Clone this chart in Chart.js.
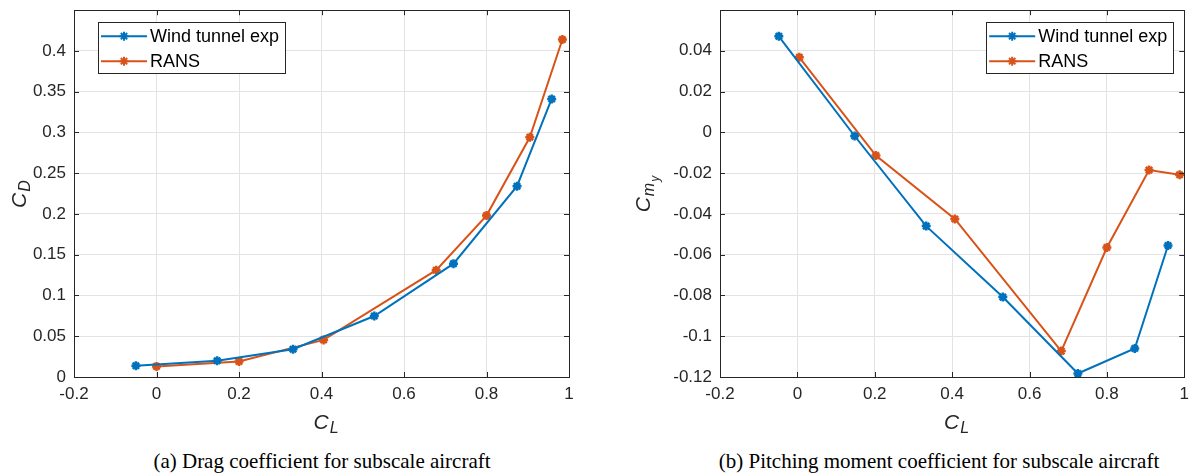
<!DOCTYPE html>
<html>
<head>
<meta charset="utf-8">
<script src="https://cdn.jsdelivr.net/npm/chart.js@4"></script>
<style>
  body { margin: 0; background: #fff; overflow: hidden; }
  #wrap { position: relative; width: 1196px; height: 476px; overflow: hidden; }
  .box { position: absolute; top: -8px; height: 448px; }
  .caption { position: absolute; top: 449px; font-family: "Liberation Serif", "Times New Roman", serif; font-size: 21px; color: #000; text-align: center; white-space: nowrap; }
</style>
</head>
<body>
<div id="wrap">
  <div class="box" style="left:0;width:600px"><canvas id="dragChart"></canvas></div>
  <div class="box" style="left:600px;width:596px"><canvas id="pitchChart"></canvas></div>
  <div class="caption" style="left:72px;width:500px">(a) Drag coefficient for subscale aircraft</div>
  <div class="caption" style="left:689px;width:500px">(b) Pitching moment coefficient for subscale aircraft</div>
</div>
<script>
// values
var seriesNames = ['Wind tunnel exp', 'RANS'];

var clExpDrag = [-0.05, 0.147, 0.331, 0.528, 0.72, 0.874, 0.958];
var cdExp = [0.0138, 0.0199, 0.034, 0.0748, 0.139, 0.234, 0.341];
var clRansDrag = [0.0, 0.2, 0.405, 0.678, 0.8, 0.905, 0.984];
var cdRans = [0.013, 0.019, 0.0455, 0.131, 0.198, 0.294, 0.414];

var clExpPitch = [-0.048, 0.148, 0.333, 0.531, 0.725, 0.872, 0.958];
var cmExp = [0.0471, -0.0018, -0.046, -0.0808, -0.1183, -0.106, -0.0555];
var clRansPitch = [0.005, 0.203, 0.407, 0.682, 0.8, 0.909, 0.988];
var cmRans = [0.0368, -0.0114, -0.0425, -0.1073, -0.0565, -0.0185, -0.0208];

var xTicks = [-0.2, 0, 0.2, 0.4, 0.6, 0.8, 1];

var BLUE = '#0072BD';
var ORANGE = '#D95319';
var AXIS = '#262626';
var FONT = '"Liberation Sans", Arial, Helvetica, sans-serif';

function pts(xs, ys) {
    return xs.map(function(v, i) { return {x: v, y: ys[i]}; });
}

function fmt(v) {
    return String(+v.toFixed(3));
}

// draws "C" with nested subscripts, e.g. ['C','m','y']
function drawSubText(ctx, parts, x, y, rotate) {
    ctx.save();
    ctx.translate(x, y);
    if (rotate) ctx.rotate(-Math.PI / 2);
    var sizes = [21, 16, 12];
    var drops = [0, 6, 12];
    var widths = parts.map(function(p, i) {
        ctx.font = 'italic ' + sizes[i] + 'px ' + FONT;
        return ctx.measureText(p).width + 1;
    });
    var total = widths.reduce(function(a, b) { return a + b; }, 0);
    var cx = -total / 2;
    ctx.fillStyle = AXIS;
    ctx.textBaseline = 'middle';
    ctx.textAlign = 'left';
    parts.forEach(function(p, i) {
        ctx.font = 'italic ' + sizes[i] + 'px ' + FONT;
        ctx.fillText(p, cx, drops[i]);
        cx += widths[i];
    });
    ctx.restore();
}

var matlabFrame = {
    id: 'matlabFrame',
    afterDraw: function(chart, args, opts) {
        var ctx = chart.ctx;
        var a = chart.chartArea;
        var xs = chart.scales.x, ys = chart.scales.y;
        ctx.save();
        ctx.strokeStyle = AXIS;
        ctx.lineWidth = 1;
        ctx.beginPath();
        xs.ticks.forEach(function(t) {
            var px = Math.round(xs.getPixelForValue(t.value)) + 0.5;
            ctx.moveTo(px, a.bottom); ctx.lineTo(px, a.bottom - 5);
            ctx.moveTo(px, a.top); ctx.lineTo(px, a.top + 5);
        });
        ys.ticks.forEach(function(t) {
            var py = Math.round(ys.getPixelForValue(t.value)) + 0.5;
            ctx.moveTo(a.left, py); ctx.lineTo(a.left + 5, py);
            ctx.moveTo(a.right, py); ctx.lineTo(a.right - 5, py);
        });
        ctx.stroke();
        ctx.strokeRect(Math.round(a.left) + 0.5, Math.round(a.top) + 0.5,
            Math.round(a.right - a.left), Math.round(a.bottom - a.top));

        // axis titles
        drawSubText(ctx, ['C', 'L'], (a.left + a.right) / 2 + 5, a.bottom + 46, false);
        drawSubText(ctx, opts.yTitle, opts.yTitleX, (a.top + a.bottom) / 2, true);

        // legend box
        ctx.font = '18px ' + FONT;
        var tw = 0;
        chart.data.datasets.forEach(function(ds) {
            tw = Math.max(tw, ctx.measureText(ds.label).width);
        });
        var bw = 52 + tw + 6, bh = 51;
        var bx = opts.legendAt === 'left' ? a.left + 24 : a.right - 11 - bw;
        var by = a.top + 12;
        ctx.fillStyle = '#fff';
        ctx.fillRect(bx, by, bw, bh);
        ctx.strokeStyle = AXIS;
        ctx.strokeRect(Math.round(bx) + 0.5, Math.round(by) + 0.5, Math.round(bw), bh);
        chart.data.datasets.forEach(function(ds, i) {
            var ly = by + 14 + i * 25;
            ctx.strokeStyle = ds.borderColor;
            ctx.lineWidth = 2;
            ctx.beginPath();
            ctx.moveTo(bx + 3, ly); ctx.lineTo(bx + 49, ly);
            ctx.stroke();
            Chart.helpers.drawPoint(ctx, {pointStyle: 'star', radius: 4.5, borderWidth: 2.5}, bx + 26, ly);
            ctx.fillStyle = '#000';
            ctx.textBaseline = 'middle';
            ctx.textAlign = 'left';
            ctx.fillText(ds.label, bx + 52, ly + 1);
        });
        ctx.restore();
    }
};

function lineSet(label, data, color) {
    return {
        label: label,
        data: data,
        borderColor: color,
        backgroundColor: color,
        borderWidth: 2,
        pointStyle: 'star',
        pointRadius: 4.5,
        pointBorderWidth: 2.5,
        pointHoverRadius: 4.5,
        tension: 0
    };
}

function makeChart(id, sets, yMin, yMax, yStep, yWidth, rightPad, yTitle, yTitleX, legendAt) {
    return new Chart(document.getElementById(id).getContext('2d'), {
        type: 'line',
        data: { datasets: sets },
        options: {
            responsive: true,
            maintainAspectRatio: false,
            animation: false,
            events: [],
            layout: { padding: { top: 1, right: rightPad, bottom: 0, left: 0 } },
            plugins: {
                legend: { display: false },
                tooltip: { enabled: false },
                matlabFrame: { yTitle: yTitle, yTitleX: yTitleX, legendAt: legendAt }
            },
            scales: {
                x: {
                    type: 'linear',
                    min: -0.2, max: 1,
                    afterBuildTicks: function(s) {
                        s.ticks = xTicks.map(function(v) { return {value: v}; });
                    },
                    afterFit: function(s) { s.height = 63; },
                    grid: { color: '#e3e3e3', drawTicks: false },
                    border: { display: false },
                    ticks: { color: AXIS, padding: 7, maxRotation: 0, font: { family: FONT, size: 17 }, callback: fmt }
                },
                y: {
                    min: yMin, max: yMax,
                    afterFit: function(s) { s.width = yWidth; },
                    grid: { color: '#e3e3e3', drawTicks: false },
                    border: { display: false },
                    ticks: { color: AXIS, padding: 8, stepSize: yStep, includeBounds: false, font: { family: FONT, size: 17 }, callback: fmt }
                }
            }
        },
        plugins: [matlabFrame]
    });
}

makeChart('dragChart', [
    lineSet(seriesNames[0], pts(clExpDrag, cdExp), BLUE),
    lineSet(seriesNames[1], pts(clRansDrag, cdRans), ORANGE)
], 0, 0.4499, 0.05, 74, 31, ['C', 'D'], 20, 'left');

makeChart('pitchChart', [
    lineSet(seriesNames[0], pts(clExpPitch, cmExp), BLUE),
    lineSet(seriesNames[1], pts(clRansPitch, cmRans), ORANGE)
], -0.12, 0.0599, 0.02, 120, 4, ['C', 'm', 'y'], 44, 'right');
</script>
</body>
</html>
